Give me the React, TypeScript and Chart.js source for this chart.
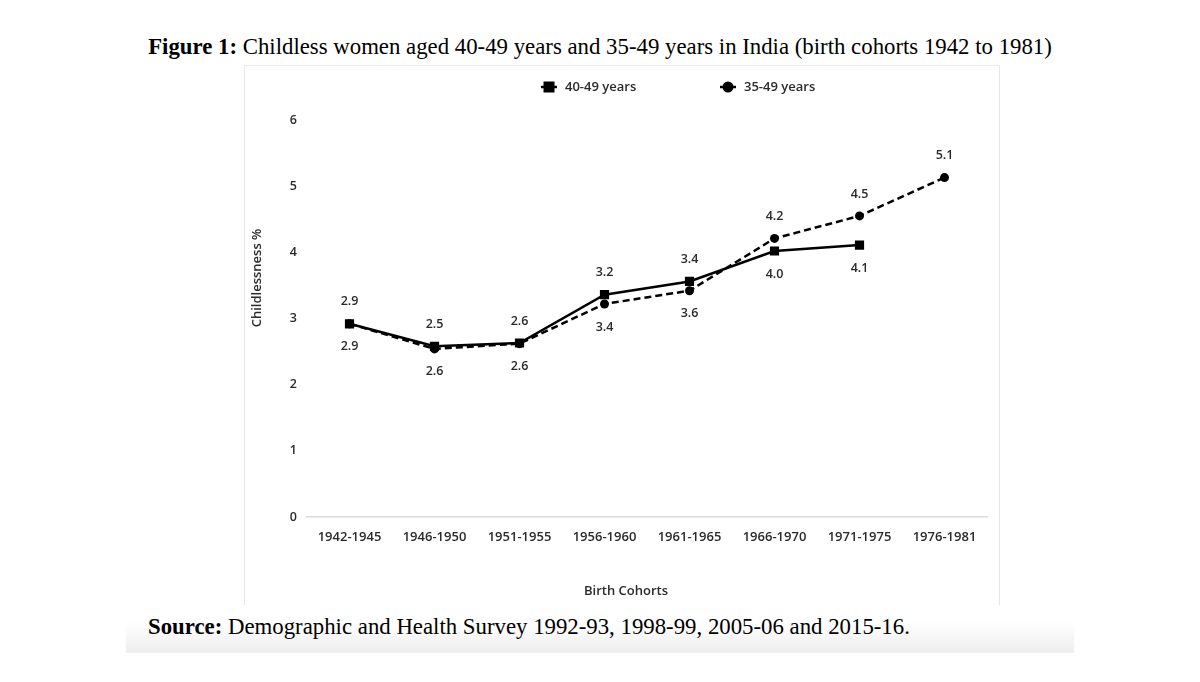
import React, { useEffect, useRef } from "react";
import { Chart, registerables } from "chart.js";

Chart.register(...registerables);

const cohorts = ["1942-1945", "1946-1950", "1951-1955", "1956-1960", "1961-1965", "1966-1970", "1971-1975", "1976-1981"];
const values4049: (number | null)[] = [2.92, 2.58, 2.63, 3.36, 3.56, 4.02, 4.11, null];
const values3549: number[] = [2.92, 2.54, 2.62, 3.22, 3.42, 4.21, 4.55, 5.13];
const labels4049 = ["2.9", "2.5", "2.6", "3.2", "3.4", "4.0", "4.1"];
const labels3549 = ["2.9", "2.6", "2.6", "3.4", "3.6", "4.2", "4.5", "5.1"];
const labelPos4049 = ["above", "above", "above", "above", "above", "below", "below"];
const labelPos3549 = ["below", "below", "below", "below", "below", "above", "above", "above"];
const yTicks = [0, 1, 2, 3, 4, 5, 6];

const TEXT_FONT = "'Open Sans', sans-serif";
const TEXT_COLOR = "#2a2a2a";

const dataLabelPlugin = {
  id: "dataLabels",
  afterDatasetsDraw(chart: any) {
    const ctx = chart.ctx;
    const sets = [
      { labels: labels4049, pos: labelPos4049 },
      { labels: labels3549, pos: labelPos3549 },
    ];
    ctx.save();
    ctx.font = `600 12.5px ${TEXT_FONT}`;
    ctx.fillStyle = TEXT_COLOR;
    ctx.textAlign = "center";
    ctx.textBaseline = "middle";
    sets.forEach((s, di) => {
      const meta = chart.getDatasetMeta(di);
      meta.data.forEach((el: any, i: number) => {
        const txt = s.labels[i];
        if (!txt) return;
        const dy = s.pos[i] === "above" ? -22 : 23;
        ctx.fillText(txt, el.x, el.y + dy);
      });
    });
    ctx.restore();
  },
};

const customLegendAndTitle = {
  id: "customLegend",
  afterDraw(chart: any) {
    const ctx = chart.ctx;
    ctx.save();
    ctx.font = `600 13px ${TEXT_FONT}`;
    ctx.fillStyle = TEXT_COLOR;
    ctx.textAlign = "center";
    ctx.textBaseline = "middle";
    // x axis title
    ctx.fillText("Birth Cohorts", 382, 526);
    // y axis title
    ctx.translate(13, 213);
    ctx.rotate(-Math.PI / 2);
    ctx.fillText("Childlessness %", 0, 0);
    ctx.restore();

    // legend
    ctx.save();
    const y = 22;
    const items = [
      { cx: 305, text: "40-49 years", style: "rect" },
      { cx: 484, text: "35-49 years", style: "circle" },
    ];
    items.forEach((it) => {
      ctx.strokeStyle = "#000";
      ctx.lineWidth = 2.5;
      ctx.beginPath();
      ctx.moveTo(it.cx - 8, y);
      ctx.lineTo(it.cx + 8, y);
      ctx.stroke();
      ctx.fillStyle = "#000";
      if (it.style === "rect") {
        ctx.fillRect(it.cx - 5.5, y - 5.5, 11, 11);
      } else {
        ctx.beginPath();
        ctx.arc(it.cx, y, 5.5, 0, Math.PI * 2);
        ctx.fill();
      }
      ctx.font = `600 13px ${TEXT_FONT}`;
      ctx.fillStyle = TEXT_COLOR;
      ctx.textAlign = "left";
      ctx.textBaseline = "middle";
      ctx.fillText(it.text, it.cx + 16, y);
    });
    ctx.restore();
  },
};

function LineChart() {
  const ref = useRef<HTMLCanvasElement | null>(null);
  useEffect(() => {
    if (!ref.current) return;
    const chart = new Chart(ref.current, {
      type: "line",
      data: {
        labels: cohorts,
        datasets: [
          {
            label: "40-49 years",
            data: values4049,
            borderColor: "#000",
            backgroundColor: "#000",
            borderWidth: 2.5,
            pointStyle: "rect",
            pointRadius: 6.5,
            pointBackgroundColor: "#000",
            pointBorderColor: "#000",
            pointBorderWidth: 0,
            tension: 0,
            spanGaps: false,
          },
          {
            label: "35-49 years",
            data: values3549,
            borderColor: "#000",
            backgroundColor: "#000",
            borderWidth: 2.5,
            borderDash: [7, 4],
            pointStyle: "circle",
            pointRadius: 4.5,
            pointBackgroundColor: "#000",
            pointBorderColor: "#000",
            pointBorderWidth: 0,
            tension: 0,
          },
        ],
      },
      options: {
        responsive: false,
        animation: false,
        devicePixelRatio: 1,
        layout: { padding: { top: 55, right: 13, left: 0, bottom: 0 } },
        plugins: {
          legend: { display: false },
          tooltip: { enabled: false },
          title: { display: false },
        },
        scales: {
          x: {
            offset: true,
            grid: { display: true, drawOnChartArea: false, drawTicks: false, color: "rgba(0,0,0,0)" },
            border: { display: true, color: "#d9d9d9", width: 1.5 },
            ticks: {
              padding: 12,
              color: TEXT_COLOR,
              font: { family: TEXT_FONT, size: 13, weight: "600" },
              maxRotation: 0,
              autoSkip: false,
            },
            afterFit(scale: any) {
              scale.height = 88;
            },
          },
          y: {
            min: 0,
            max: 6,
            grid: { display: false, drawTicks: false },
            border: { display: false },
            ticks: {
              stepSize: 1,
              padding: 10,
              color: TEXT_COLOR,
              font: { family: TEXT_FONT, size: 12.5, weight: "600" },
              callback: (v: any) => (yTicks.includes(Number(v)) ? String(v) : ""),
            },
            afterFit(scale: any) {
              scale.width = 63;
            },
          },
        },
      },
      plugins: [dataLabelPlugin, customLegendAndTitle],
    });
    return () => chart.destroy();
  }, []);
  return <canvas ref={ref} width={756} height={540} style={{ width: 756, height: 540, display: "block" }} />;
}

export default function App() {
  return (
    <div style={{ position: "absolute", left: 0, top: 0, width: 1200, height: 682, background: "#fff", overflow: "hidden" }}>
      <div
        style={{
          position: "absolute",
          left: 0,
          top: 32,
          width: 1200,
          textAlign: "center",
          fontFamily: "'Liberation Serif', 'Times New Roman', serif",
          fontSize: 22.8,
          lineHeight: "30px",
          color: "#000",
          whiteSpace: "nowrap",
        }}
      >
        <b>Figure 1:</b> Childless women aged 40-49 years and 35-49 years in India (birth cohorts 1942 to 1981)
      </div>
      <div
        style={{
          position: "absolute",
          left: 126,
          top: 606,
          width: 948,
          height: 46,
          background: "linear-gradient(to bottom, #ffffff 0%, #ffffff 35%, #eeeeee 100%)",
          boxShadow: "0 1px 1px rgba(0,0,0,0.05)",
        }}
      />
      <div
        style={{
          position: "absolute",
          left: 244,
          top: 65,
          width: 756,
          height: 540,
          borderTop: "1px solid #ececec",
          borderLeft: "1px solid #e6e6e6",
          borderRight: "1px solid #e6e6e6",
          boxSizing: "border-box",
        }}
      />
      <div style={{ position: "absolute", left: 244, top: 65 }}>
        <LineChart />
      </div>
      <div
        style={{
          position: "absolute",
          left: 148,
          top: 612,
          fontFamily: "'Liberation Serif', 'Times New Roman', serif",
          fontSize: 22.8,
          lineHeight: "30px",
          color: "#000",
          whiteSpace: "nowrap",
        }}
      >
        <b>Source:</b> Demographic and Health Survey 1992-93, 1998-99, 2005-06 and 2015-16.
      </div>
    </div>
  );
}
